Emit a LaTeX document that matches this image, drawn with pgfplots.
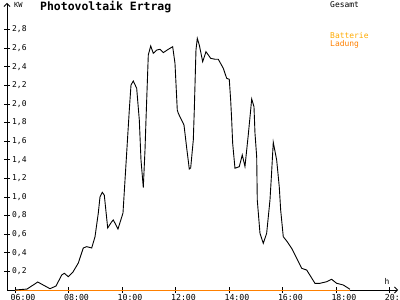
\documentclass[border=0pt]{standalone}
\usepackage{fontspec}
\setmainfont{DejaVu Sans Mono}
\usepackage{pgfplots}
\pgfplotsset{compat=1.18}
\usetikzlibrary{arrows.meta}
\definecolor{batt}{RGB}{255,170,0}
\definecolor{lad}{RGB}{255,128,0}
\begin{document}
\begin{tikzpicture}
\useasboundingbox (0bp,0bp) rectangle (400bp,300bp);
\begin{axis}[
  at={(7bp,10bp)}, anchor=south west,
  scale only axis, width=391bp, height=287bp,
  xmin=5.70, xmax=20.32, ymin=0, ymax=3.086,
  axis x line=bottom, axis y line=left,
  axis line style={line width=0.8bp, -{Straight Barb[length=3bp,width=6bp]}},
  xtick={6,8,10,12,14,16,18,20},
  xticklabels={06:00,08:00,10:00,12:00,14:00,16:00,18:00,20:00},
  ytick={0.2,0.4,0.6,0.8,1.0,1.2,1.4,1.6,1.8,2.0,2.2,2.4,2.6,2.8},
  /pgf/number format/.cd, fixed, fixed zerofill, precision=1, use comma, assume math mode=true,
  /pgfplots/.cd,
  tick align=center, major tick length=6bp,
  tick style={black, line width=0.8bp},
  tick label style={inner sep=0pt},
  yticklabel style={anchor=west, xshift=8bp, font=\fontsize{8}{9}\selectfont},
  xticklabel style={anchor=base, xshift=8bp, yshift=-7bp, font=\fontsize{8.3}{9}\selectfont},
  clip=false,
]
\addplot[lad, line width=1bp] coordinates {(6,0) (18.52,0)};
\addplot[black, line width=0.9bp, sharp plot] coordinates {
(6.000,0.000) (6.449,0.010) (6.849,0.086) (7.308,0.014) (7.533,0.043)
(7.746,0.161) (7.843,0.180) (7.993,0.143) (8.168,0.194) (8.366,0.290)
(8.553,0.452) (8.680,0.466) (8.867,0.452) (8.991,0.573) (9.114,0.828)
(9.178,1.003) (9.264,1.050) (9.338,1.020) (9.465,0.667) (9.615,0.734)
(9.675,0.753) (9.850,0.656) (10.037,0.828) (10.273,1.935) (10.336,2.204)
(10.422,2.247) (10.549,2.169) (10.647,1.828) (10.710,1.398) (10.796,1.102)
(10.860,1.505) (10.897,1.828) (10.983,2.527) (11.073,2.624) (11.170,2.545)
(11.297,2.580) (11.421,2.588) (11.544,2.552) (11.731,2.588) (11.895,2.616)
(11.981,2.438) (12.067,1.935) (12.105,1.900) (12.318,1.774) (12.419,1.527)
(12.516,1.301) (12.568,1.312) (12.666,1.613) (12.703,1.935) (12.766,2.581)
(12.815,2.706) (12.890,2.634) (13.017,2.455) (13.140,2.562) (13.316,2.491)
(13.477,2.481) (13.600,2.481) (13.787,2.384) (13.914,2.276) (14.011,2.266)
(14.063,2.043) (14.101,1.828) (14.138,1.577) (14.224,1.309) (14.385,1.326)
(14.497,1.452) (14.598,1.328) (14.721,1.667) (14.811,1.935) (14.849,2.054)
(14.935,1.971) (14.972,1.688) (15.036,1.433) (15.058,0.968) (15.159,0.610)
(15.282,0.502) (15.409,0.610) (15.533,0.968) (15.589,1.237) (15.656,1.588)
(15.783,1.398) (15.880,1.111) (15.933,0.860) (16.030,0.573) (16.179,0.519)
(16.344,0.448) (16.531,0.341) (16.718,0.233) (16.905,0.215) (17.215,0.072)
(17.402,0.072) (17.652,0.089) (17.839,0.115) (18.026,0.072) (18.273,0.054)
(18.523,0.008)
};
\end{axis}
\node[anchor=west, inner sep=0pt, font=\bfseries\fontsize{11.5}{12}\selectfont] at (40bp,292.5bp) {Photovoltaik Ertrag};
\node[anchor=west, inner sep=0pt, font=\fontsize{7}{8}\selectfont] at (14bp,295bp) {KW};
\node[anchor=west, inner sep=0pt, font=\fontsize{8}{9}\selectfont] at (330bp,295.5bp) {Gesamt};
\node[anchor=west, inner sep=0pt, font=\fontsize{8}{9}\selectfont, text=batt] at (330bp,264bp) {Batterie};
\node[anchor=west, inner sep=0pt, font=\fontsize{8}{9}\selectfont, text=lad] at (330bp,256bp) {Ladung};
\node[inner sep=0pt, font=\fontsize{8}{9}\selectfont] at (387bp,19bp) {h};
\end{tikzpicture}
\end{document}
